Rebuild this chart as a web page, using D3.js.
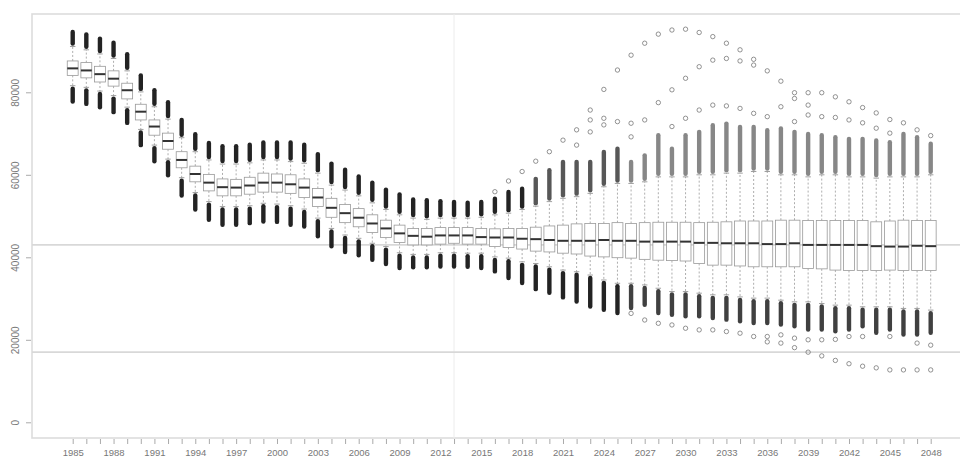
<!DOCTYPE html>
<html>
<head>
<meta charset="utf-8">
<script src="https://cdn.jsdelivr.net/npm/d3@7"></script>
<style>
  body { margin: 0; background: #fff; }
  svg { display: block; font-family: "Liberation Sans", Arial, sans-serif; }
</style>
</head>
<body>
<script>
// ---------- data ----------
let years = d3.range(1985, 2049);
let xTickLabels = ['1985', '1988', '1991', '1994', '1997', '2000', '2003', '2006', '2009', '2012', '2015',
    '2018', '2021', '2024', '2027', '2030', '2033', '2036', '2039', '2042', '2045', '2048'];
let yTicks = [0, 20000, 40000, 60000, 80000];
let refLines = [43000, 17000];
let refYear = 2013;

let outHi = [95100, 94500, 93500, 92500, 89700, 84600, 81000, 78100, 73800, 70300,
    68200, 67400, 67400, 67800, 68300, 68300, 68300, 67800, 65500, 63200,
    61700, 60100, 58600, 56900, 55700, 54500, 54300, 54100, 53900, 53700,
    53900, 54700, 56300, 57100, 59500, 61600, 63600, 63600, 63600, 66000,
    66800, 63600, 65200, 70100, 66800, 70100, 70900, 72500, 72900, 72100,
    72100, 71300, 71700, 70900, 70400, 70100, 69600, 69200, 69200, 68800,
    68400, 70400, 69600, 68000];
let whiskHi = [91100, 90300, 89300, 88200, 85200, 80100, 76500, 73500, 69000, 65600,
    63600, 62600, 62600, 62900, 63600, 63600, 63200, 62800, 60400, 57500,
    56300, 54900, 53200, 51600, 50300, 49500, 49200, 49500, 49500, 49500,
    49700, 50300, 50700, 51600, 52400, 53500, 54300, 54700, 55500, 57100,
    57900, 57900, 58300, 59500, 59500, 59500, 60000, 60000, 60400, 60400,
    60800, 60800, 60000, 60000, 59500, 60000, 60000, 59500, 59500, 59200,
    59500, 59500, 59500, 60000];
let q3 = [87600, 87200, 86300, 85200, 82200, 77100, 73300, 70100, 65600, 62100,
    60100, 59000, 58900, 59400, 60400, 60200, 60000, 59000, 56700, 54300,
    52800, 51800, 50300, 49000, 47800, 47000, 47000, 47200, 47200, 47200,
    47000, 46900, 47000, 47000, 47300, 47600, 47800, 48100, 48200, 48200,
    48400, 48200, 48400, 48500, 48500, 48500, 48400, 48500, 48600, 48800,
    48800, 48800, 49000, 49000, 48900, 48900, 48900, 48900, 48900, 48600,
    48800, 49000, 48900, 48900];
let median = [85800, 85300, 84400, 83300, 80500, 75300, 71700, 68200, 63600, 60200,
    58100, 57000, 56900, 57400, 58100, 58100, 57700, 56900, 54500, 52000,
    50700, 49600, 48200, 47000, 45800, 45200, 45000, 45300, 45300, 45300,
    44900, 44800, 44800, 44500, 44400, 44200, 44000, 44000, 44000, 44200,
    44000, 44000, 43800, 43800, 43800, 43800, 43500, 43500, 43400, 43400,
    43400, 43200, 43200, 43400, 43000, 43000, 43000, 43000, 43000, 42700,
    42600, 42600, 42800, 42700];
let q1 = [84100, 83500, 82500, 81500, 78400, 73300, 69600, 66200, 61700, 58300,
    56100, 54900, 54900, 55300, 55800, 55800, 55500, 54500, 52300, 49700,
    48400, 47400, 46000, 44800, 43600, 43000, 43000, 43200, 43400, 43200,
    43200, 42600, 42400, 42000, 41500, 41300, 41000, 40800, 40300, 40100,
    39900, 39800, 39500, 39300, 39200, 39100, 38500, 38100, 38100, 37900,
    37700, 37700, 37700, 37700, 37300, 37200, 36900, 36800, 36800, 36800,
    36900, 36800, 36800, 36800];
let whiskLo = [81600, 81200, 80300, 79200, 76400, 71000, 67200, 63800, 59300, 55700,
    53500, 52300, 52300, 52500, 53100, 52900, 52500, 51700, 49500, 47000,
    45400, 44600, 43400, 42600, 41100, 40700, 40700, 41100, 41100, 41000,
    41000, 40100, 39800, 38900, 38500, 37700, 36900, 36500, 35700, 34500,
    33700, 33700, 33300, 32500, 31700, 31700, 31300, 30900, 30900, 30400,
    30100, 30100, 29600, 29200, 29200, 28800, 28400, 28400, 28000, 28000,
    28000, 27600, 27600, 27200];
let outLo = [77300, 76700, 75900, 74700, 72100, 66700, 62800, 59400, 54500, 51100,
    48600, 47400, 47400, 47800, 48200, 48100, 47400, 47000, 44600, 42200,
    40800, 40000, 38900, 37900, 36900, 37100, 37100, 37300, 37300, 37200,
    36900, 36100, 34500, 33300, 31800, 30900, 29800, 28800, 27600, 26800,
    26000, 27200, 28000, 26000, 25600, 25200, 25200, 24800, 24400, 24000,
    23600, 23600, 23200, 22800, 22000, 22000, 21600, 22000, 22800, 21200,
    22000, 20800, 20800, 21200];

// single outliers well away from the dense clusters
let sparseOut = [
    [2016, 55900], [2017, 58500], [2018, 60800], [2019, 63300], [2020, 65600], [2021, 68400],
    [2022, 70900], [2022, 67200], [2023, 75700], [2023, 73300], [2023, 70400],
    [2024, 80700], [2024, 73700], [2024, 72100], [2025, 85400], [2025, 72900],
    [2026, 89000], [2026, 72500], [2026, 69200], [2027, 91900], [2027, 73300],
    [2028, 94100], [2028, 77500], [2029, 95100], [2029, 80600], [2029, 71700],
    [2030, 95300], [2030, 83400], [2030, 73700], [2031, 94500], [2031, 86200], [2031, 75700],
    [2032, 93500], [2032, 87800], [2032, 76900], [2033, 91900], [2033, 88200], [2033, 76700],
    [2034, 90300], [2034, 87600], [2034, 76100], [2035, 88000], [2035, 86600], [2035, 74900],
    [2036, 85200], [2036, 74100], [2037, 82700], [2037, 76500],
    [2038, 79900], [2038, 78500], [2038, 72900], [2039, 79900], [2039, 76900], [2039, 74500],
    [2040, 79900], [2040, 74100], [2041, 78900], [2041, 73900], [2042, 77700], [2042, 73300],
    [2043, 76300], [2043, 72600], [2044, 75000], [2044, 71300], [2045, 73400], [2045, 70100],
    [2046, 72600], [2047, 70900], [2048, 69500],
    [2026, 26400], [2027, 24800], [2028, 24000], [2029, 23600], [2030, 22800], [2031, 22400],
    [2032, 22400], [2033, 22000], [2034, 21600], [2035, 20800],
    [2036, 20800], [2036, 19500], [2037, 21200], [2037, 19200], [2038, 20400], [2038, 18100],
    [2039, 20000], [2039, 17000], [2040, 20000], [2040, 16100], [2041, 20100], [2041, 15000],
    [2042, 20800], [2042, 14200], [2043, 20800], [2043, 13600], [2044, 13200],
    [2045, 20800], [2045, 12700], [2046, 12700], [2047, 19200], [2047, 12700],
    [2048, 18700], [2048, 12700]
];

// ---------- layout ----------
let width = 960, height = 457;
let frame = { left: 32, top: 14, right: 962, bottom: 438 };

let svg = d3.select('body').append('svg')
    .attr('width', width)
    .attr('height', height);

let x = d3.scalePoint()
    .domain(years)
    .range([72.7, 930.7]);

let y = d3.scaleLinear()
    .domain([0, 80000])
    .range([422.3, 92.3]);

let boxW = x.step() * 0.8;

let boxes = years.map(function (yr, i) {
    return { year: yr, outHi: outHi[i], wHi: whiskHi[i], q3: q3[i], med: median[i],
        q1: q1[i], wLo: whiskLo[i], outLo: outLo[i] };
});

// frame + reference lines
svg.append('rect')
    .attr('x', frame.left).attr('y', frame.top)
    .attr('width', frame.right - frame.left).attr('height', frame.bottom - frame.top)
    .attr('fill', 'none').attr('stroke', '#dcdcdc').attr('stroke-width', 1.6);

svg.append('line')
    .attr('x1', x(refYear)).attr('x2', x(refYear))
    .attr('y1', frame.top).attr('y2', frame.bottom)
    .attr('stroke', '#ececec').attr('stroke-width', 1);

svg.selectAll('line.ref').data(refLines).enter()
    .append('line').attr('class', 'ref')
    .attr('x1', frame.left).attr('x2', width)
    .attr('y1', function (d) { return y(d); }).attr('y2', function (d) { return y(d); })
    .attr('stroke', '#d8d8d8').attr('stroke-width', 1.8);

// ---------- y axis ----------
let yAxis = d3.axisLeft(y).tickValues(yTicks).tickSize(5).tickFormat(d3.format('d'));
let ya = svg.append('g').attr('transform', `translate(${frame.left - 1},0)`).call(yAxis);
ya.select('.domain').remove();
ya.selectAll('line').attr('stroke', '#aaa');
ya.selectAll('text')
    .attr('x', null).attr('dy', null)
    .attr('transform', `translate(${18.5 - frame.left + 1},0) rotate(-90)`)
    .attr('text-anchor', 'middle')
    .attr('fill', '#777').style('font-size', '10px');

// ---------- x axis ----------
let xAxis = d3.axisBottom(x).tickSize(5).tickFormat(function (d) {
    return xTickLabels.indexOf(String(d)) >= 0 ? String(d) : '';
});
let xa = svg.append('g').attr('transform', `translate(0,${frame.bottom + 1})`).call(xAxis);
xa.select('.domain').remove();
xa.selectAll('line').attr('stroke', '#aaa');
xa.selectAll('text').attr('y', 16.5).attr('dy', null)
    .attr('fill', '#777').style('font-size', '9.5px');

// ---------- boxes ----------
let g = svg.append('g').attr('class', 'boxes');
let b = g.selectAll('g.box').data(boxes).enter()
    .append('g').attr('class', 'box')
    .attr('transform', function (d) { return `translate(${x(d.year)},0)`; });

// whiskers
b.append('line')
    .attr('y1', function (d) { return y(d.q3); }).attr('y2', function (d) { return y(d.wHi); })
    .attr('stroke', '#999').attr('stroke-width', 0.8).attr('stroke-dasharray', '2,2');
b.append('line')
    .attr('y1', function (d) { return y(d.q1); }).attr('y2', function (d) { return y(d.wLo); })
    .attr('stroke', '#999').attr('stroke-width', 0.8).attr('stroke-dasharray', '2,2');
b.append('line')
    .attr('x1', -boxW / 4).attr('x2', boxW / 4)
    .attr('y1', function (d) { return y(d.wHi); }).attr('y2', function (d) { return y(d.wHi); })
    .attr('stroke', '#888').attr('stroke-width', 0.8);
b.append('line')
    .attr('x1', -boxW / 4).attr('x2', boxW / 4)
    .attr('y1', function (d) { return y(d.wLo); }).attr('y2', function (d) { return y(d.wLo); })
    .attr('stroke', '#888').attr('stroke-width', 0.8);

// dense outlier clusters (upper ones thin out in the projection years)
b.append('line')
    .attr('y1', function (d) { return y(d.wHi) - 3; }).attr('y2', function (d) { return y(d.outHi) + 2; })
    .attr('stroke', '#111').attr('stroke-width', 4.4).attr('stroke-linecap', 'round')
    .attr('opacity', function (d) { return d.year > 2025 ? 0.5 : (d.year > 2018 ? 0.7 : 0.92); });
b.append('line')
    .attr('y1', function (d) { return y(d.wLo) + 3; }).attr('y2', function (d) { return y(d.outLo) - 2; })
    .attr('stroke', '#111').attr('stroke-width', 4.4).attr('stroke-linecap', 'round')
    .attr('opacity', function (d) { return d.year > 2025 ? 0.8 : 0.92; });

// box + median
b.append('rect')
    .attr('x', -boxW / 2).attr('width', boxW)
    .attr('y', function (d) { return y(d.q3); })
    .attr('height', function (d) { return y(d.q1) - y(d.q3); })
    .attr('fill', '#fff').attr('stroke', '#999').attr('stroke-width', 0.8);
b.append('line')
    .attr('x1', -boxW / 2).attr('x2', boxW / 2)
    .attr('y1', function (d) { return y(d.med); }).attr('y2', function (d) { return y(d.med); })
    .attr('stroke', '#333').attr('stroke-width', 2);

// sparse outliers
svg.append('g').selectAll('circle').data(sparseOut).enter()
    .append('circle')
    .attr('cx', function (d) { return x(d[0]); })
    .attr('cy', function (d) { return y(d[1]); })
    .attr('r', 2.2)
    .attr('fill', 'none').attr('stroke', '#666').attr('stroke-width', 0.7);
</script>
</body>
</html>
